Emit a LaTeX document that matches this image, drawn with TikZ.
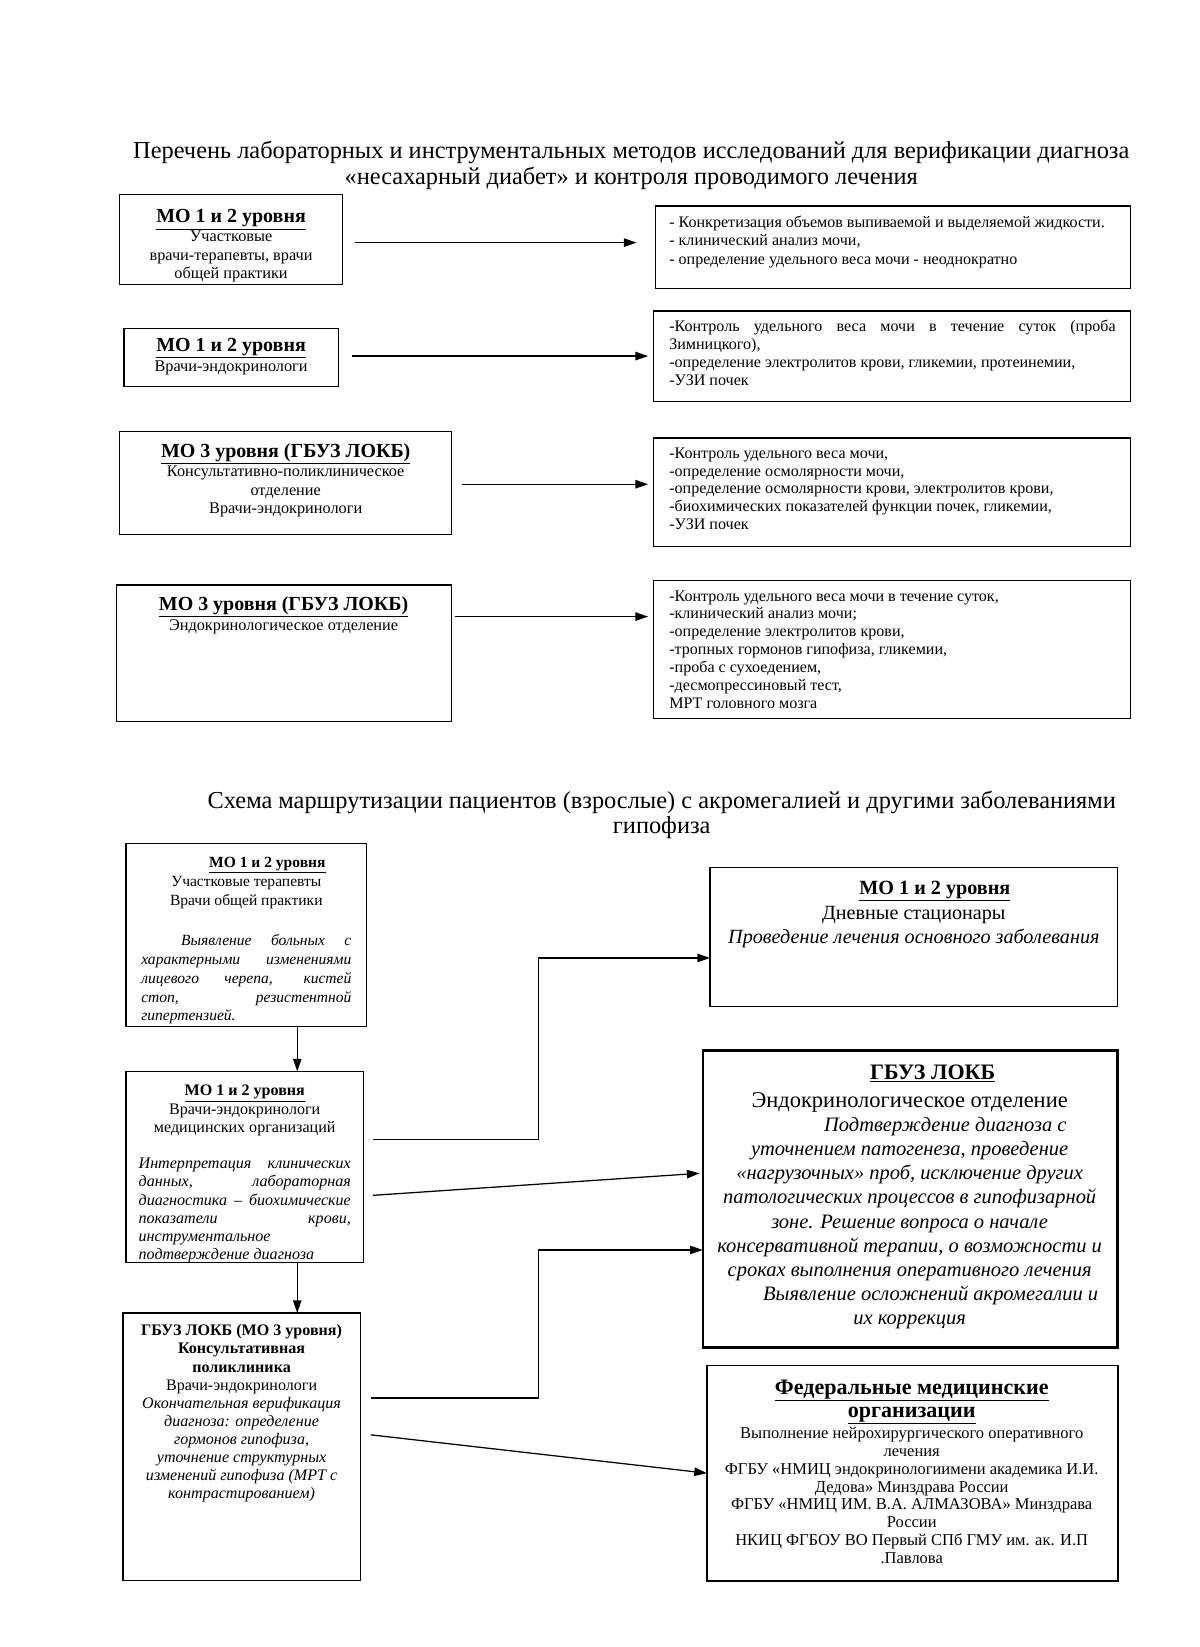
\documentclass[tikz,border=0pt]{standalone}
\usepackage{fontspec}
\setmainfont{Liberation Serif}
\usetikzlibrary{arrows.meta}
\newcommand{\setfs}[2]{\fontsize{#1}{#2}\selectfont}
\newcommand{\ulbf}[1]{\underline{\textbf{#1}}}
\newcommand{\justline}[2]{\makebox[#1][s]{#2}}
\newcommand{\lftline}[2]{\makebox[#1][l]{#2}}
\tikzset{
  box/.style={draw, line width=1.2pt, anchor=north west, inner sep=0pt, outer sep=0pt},
  bigbox/.style={box, line width=2.3pt},
  txt/.style={inner sep=0pt, anchor=north, align=center},
  ltxt/.style={inner sep=0pt, anchor=north west, align=left},
  arr/.style={-{Triangle[length=12pt,width=8pt]}, line width=1.2pt},
}
\begin{document}
\begin{tikzpicture}[x=1pt,y=-1pt]
\useasboundingbox[fill=white] (0,0) rectangle (1142,1568);

% ---------- Title 1
\node[txt, font=\setfs{23.2}{25}] (title1) at (601,134)
 {Перечень лабораторных и инструментальных методов исследований для верификации диагноза\\
  «несахарный диабет» и контроля проводимого лечения};

% ---------- Top left boxes
\node[box, minimum width=212pt, minimum height=86pt] (a1) at (114,185) {};
\node[txt, font=\setfs{15.5}{17.7}] (a1t) at (220,199.5)
 {{\setfs{19}{17.7}\ulbf{МО 1 и 2 уровня}}\\Участковые\\врачи-терапевты, врачи\\общей практики};

\node[box, minimum width=204pt, minimum height=55pt] (a2) at (118,313) {};
\node[txt, font=\setfs{15.5}{19}] (a2t) at (220,321.5)
 {{\setfs{19}{19}\ulbf{МО 1 и 2 уровня}}\\Врачи-эндокринологи};

\node[box, minimum width=316pt, minimum height=98pt] (a3) at (114,411) {};
\node[txt, font=\setfs{15.5}{17.7}] (a3t) at (272,422.5)
 {{\setfs{19}{17.7}\ulbf{МО 3 уровня (ГБУЗ ЛОКБ)}}\\Консультативно-поликлиническое\\отделение\\Врачи-эндокринологи};

\node[box, minimum width=319pt, minimum height=130pt] (a4) at (111,557) {};
\node[txt, font=\setfs{15.5}{19}] (a4t) at (270,567.5)
 {{\setfs{19}{19}\ulbf{МО 3 уровня (ГБУЗ ЛОКБ)}}\\Эндокринологическое отделение};

% ---------- Top right boxes
\node[box, minimum width=452pt, minimum height=79pt] (b1) at (624,196) {};
\node[ltxt, font=\setfs{15.3}{17.5}] (b1t) at (637,205.2)
 {- Конкретизация объемов выпиваемой и выделяемой жидкости.\\
  - клинический анализ мочи,\\
  - определение удельного веса мочи - неоднократно};

\node[box, minimum width=454pt, minimum height=86pt] (b2) at (622,296) {};
\node[ltxt, font=\setfs{15.3}{17.3}] (b2t) at (637,304.2)
 {\justline{425pt}{-Контроль удельного веса мочи в течение суток (проба}\\
  Зимницкого),\\
  -определение электролитов крови, гликемии, протеинемии,\\
  -УЗИ почек};

\node[box, minimum width=454pt, minimum height=103pt] (b3) at (622,417) {};
\node[ltxt, font=\setfs{15.3}{17}] (b3t) at (637,426)
 {-Контроль удельного веса мочи,\\
  -определение осмолярности мочи,\\
  -определение осмолярности крови, электролитов крови,\\
  -биохимических показателей функции почек, гликемии,\\
  -УЗИ почек};

\node[box, minimum width=454pt, minimum height=131pt] (b4) at (622,553) {};
\node[ltxt, font=\setfs{15.3}{17}] (b4t) at (637,562)
 {-Контроль удельного веса мочи в течение суток,\\
  -клинический анализ мочи;\\
  -определение электролитов крови,\\
  -тропных гормонов гипофиза, гликемии,\\
  -проба с сухоедением,\\
  -десмопрессиновый тест,\\
  МРТ головного мозга};

% ---------- Top arrows
\draw[arr, shorten <=12pt, shorten >=18pt] ([yshift=-3pt]a1.east) -- ([yshift=-3pt]a1.east -| b1.west);
\draw[arr, shorten <=13pt, shorten >=5pt] ([yshift=1.5pt]a2.east) -- ([yshift=1.5pt]a2.east -| b2.west);
\draw[arr, shorten <=10pt, shorten >=5pt] ([yshift=-1pt]a3.east) -- ([yshift=-1pt]a3.east -| b3.west);
\draw[arr, shorten <=3pt, shorten >=5pt] ([yshift=35pt]a4.east) -- ([yshift=35pt]a4.east -| b4.west);

% ---------- Title 2
\node[txt, font=\setfs{23.2}{24}] (title2) at (630,753)
 {Схема маршрутизации пациентов (взрослые) с акромегалией и другими заболеваниями\\
  гипофиза};

% ---------- Lower left boxes
\node[box, minimum width=229pt, minimum height=174pt] (c1) at (120,803) {};
\node[txt, font=\setfs{14.8}{18}] (c1t) at (234.5,816)
 {\hspace*{40pt}\ulbf{МО 1 и 2 уровня}\\
  Участковые терапевты\\
  Врачи общей практики\\[20pt]
  \itshape\justline{200pt}{\hspace*{38pt}Выявление больных с}\\
  \itshape\justline{200pt}{характерными изменениями}\\
  \itshape\justline{200pt}{лицевого черепа, кистей}\\
  \itshape\justline{200pt}{стоп, резистентной}\\
  \itshape\lftline{200pt}{гипертензией.}};

\node[box, minimum width=226pt, minimum height=182pt] (c2) at (120,1020) {};
\node[txt, font=\setfs{15.3}{17.4}] (c2t) at (233,1033)
 {\ulbf{МО 1 и 2 уровня}\\
  Врачи-эндокринологи\\
  медицинских организаций\\[17pt]
  \itshape\justline{202pt}{Интерпретация клинических}\\
  \itshape\justline{202pt}{данных, лабораторная}\\
  \itshape\justline{202pt}{диагностика – биохимические}\\
  \itshape\justline{202pt}{показатели крови,}\\
  \itshape\lftline{202pt}{инструментальное}\\
  \itshape\lftline{202pt}{подтверждение диагноза}};

\node[box, minimum width=226pt, minimum height=255pt] (c3) at (117,1250) {};
\node[txt, font=\setfs{15.3}{17.2}] (c3t) at (230,1261)
 {\textbf{ГБУЗ ЛОКБ (МО 3 уровня)}\\
  \textbf{Консультативная}\\
  \textbf{поликлиника}\\
  Врачи-эндокринологи\\
  \itshape Окончательная верификация\\
  \itshape диагноза: определение\\
  \itshape гормонов гипофиза,\\
  \itshape уточнение структурных\\
  \itshape изменений гипофиза (МРТ с\\
  \itshape контрастированием)};

% ---------- Lower right boxes
\node[box, minimum width=388pt, minimum height=132pt] (d1) at (676,826) {};
\node[txt, font=\setfs{19.2}{23.5}] (d1t) at (870,838.5)
 {\hspace*{40pt}\ulbf{МО 1 и 2 уровня}\\
  Дневные стационары\\
  \itshape Проведение лечения основного заболевания};

\node[bigbox, minimum width=395pt, minimum height=283pt] (d2) at (669,1000) {};
\node[txt, font=\setfs{19.5}{23}\itshape] (d2t) at (866,1014)
 {{\upshape\setfs{21}{23}\hspace*{44pt}\ulbf{ГБУЗ ЛОКБ}}\\[3pt]
  {\upshape\setfs{21.4}{23}Эндокринологическое отделение}\\
  \hspace*{68pt}Подтверждение диагноза с\\
  уточнением патогенеза, проведение\\
  «нагрузочных» проб, исключение других\\
  патологических процессов в гипофизарной\\
  зоне. Решение вопроса о начале\\
  консервативной терапии, о возможности и\\
  сроках выполнения оперативного лечения\\
  \hspace*{40pt}Выявление осложнений акромегалии и\\
  их коррекция};

\node[bigbox, line width=1.8pt, minimum width=391pt, minimum height=205pt] (d3) at (673,1300) {};
\node[txt, font=\setfs{15.7}{17}] (d3t) at (868,1313.3)
 {{\setfs{21}{17}\ulbf{Федеральные медицинские}}\\[5pt]
  {\setfs{21}{17}\ulbf{организации}}\\[2pt]
  Выполнение нейрохирургического оперативного\\
  лечения\\
  ФГБУ «НМИЦ эндокринологиимени академика И.И.\\
  Дедова» Минздрава России\\
  ФГБУ «НМИЦ ИМ. В.А. АЛМАЗОВА» Минздрава\\
  России\\
  НКИЦ ФГБОУ ВО Первый СПб ГМУ им. ак. И.П\\
  .Павлова};

% ---------- Lower connectors
\draw[arr] ([xshift=48.5pt]c1.south) -- ([xshift=48.5pt]c1.south |- c2.north);
\draw[arr] ([xshift=50pt]c2.south) -- ([xshift=50pt]c2.south |- c3.north);

\draw[arr] ([shift={(9pt,26pt)}]c2.east) -- ++(158pt,0pt) |- ([yshift=-20pt]d1.west);
\draw[arr] ([shift={(9pt,-27pt)}]c2.east) -- ([shift={(-3pt,24.5pt)}]d2.west);
\draw[arr] ([shift={(10pt,46.5pt)}]c3.east) -- ++(160pt,0pt) |- ([yshift=-48.5pt]d2.west);
\draw[arr] ([shift={(10pt,11.5pt)}]c3.east) -- (d3.west);
\end{tikzpicture}
\end{document}
